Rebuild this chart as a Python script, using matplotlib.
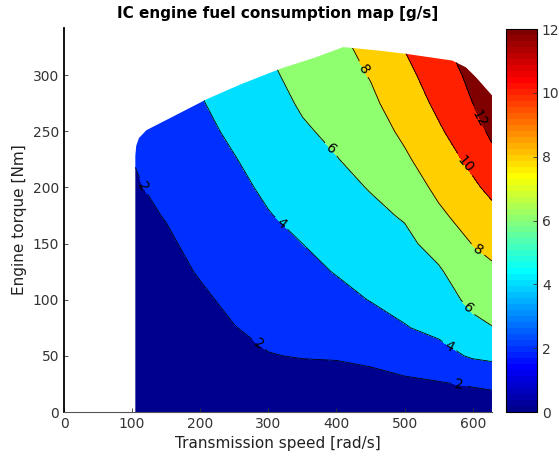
import numpy as np
import matplotlib
matplotlib.use("Agg")
from matplotlib import pyplot as plt
from matplotlib.patches import Polygon
from matplotlib.colors import Normalize, ListedColormap
from matplotlib.cm import ScalarMappable

# grid of the fuel map (speed in rad/s, torque in Nm)
speed = [104.7, 150, 200, 250, 300, 350, 400, 450, 500, 550, 600, 628.3]
torque = [0, 25, 50, 75, 100, 125, 150, 175, 200, 225, 250, 275, 300, 325, 350]

# fuel rate [g/s], one list per speed column (rows follow torque)
fuel_104 = [0.20, 0.41, 0.61, 0.82, 1.03, 1.23, 1.44, 1.65, 1.85, 2.06, 2.30, 2.50, 2.70, 2.90, 3.10]
fuel_150 = [0.25, 0.51, 0.76, 1.02, 1.28, 1.54, 1.79, 2.07, 2.42, 2.78, 3.13, 3.50, 3.85, 4.20, 4.55]
fuel_200 = [0.30, 0.67, 1.03, 1.40, 1.77, 2.11, 2.40, 2.70, 2.99, 3.29, 3.58, 3.88, 4.17, 4.47, 4.76]
fuel_250 = [0.35, 0.89, 1.42, 1.96, 2.30, 2.63, 2.95, 3.28, 3.61, 3.93, 4.30, 4.68, 5.05, 5.43, 5.80]
fuel_300 = [0.40, 1.17, 1.94, 2.36, 2.75, 3.14, 3.53, 3.92, 4.28, 4.64, 4.99, 5.35, 5.70, 6.05, 6.40]
fuel_350 = [0.45, 1.29, 2.08, 2.56, 3.04, 3.52, 4.00, 4.45, 4.89, 5.34, 5.79, 6.20, 6.57, 6.95, 7.33]
fuel_400 = [0.50, 1.33, 2.13, 2.80, 3.47, 4.09, 4.56, 5.02, 5.48, 5.94, 6.37, 6.78, 7.20, 7.62, 8.03]
fuel_450 = [0.55, 1.46, 2.35, 3.23, 4.06, 4.57, 5.08, 5.59, 6.10, 6.62, 7.13, 7.65, 8.10, 8.45, 8.90]
fuel_500 = [0.60, 1.69, 2.80, 3.91, 4.49, 5.03, 5.57, 6.16, 6.94, 7.72, 8.36, 8.93, 9.50, 10.07, 10.64]
fuel_550 = [0.65, 1.86, 3.38, 4.41, 5.10, 5.78, 6.67, 7.65, 8.43, 9.09, 9.76, 10.39, 10.90, 11.45, 12.00]
fuel_600 = [0.70, 2.17, 4.21, 5.49, 6.48, 7.27, 8.06, 8.87, 9.68, 10.46, 11.23, 12.00, 12.50, 13.20, 13.90]
fuel_628 = [0.75, 2.36, 4.42, 5.94, 6.81, 7.66, 8.56, 9.48, 10.45, 11.47, 12.38, 13.18, 13.97, 14.77, 15.56]

# maximum torque envelope
max_speed = [104.7, 106, 110, 121, 150, 211, 260, 319, 370, 410, 460, 502, 570, 590, 605, 628.3]
max_torque = [228, 237, 244, 251, 260, 279, 292, 306, 316, 325, 322, 319, 313, 307, 298, 282]

levels = [0, 2, 4, 6, 8, 10, 12, 16]
line_levels = [2, 4, 6, 8, 10, 12]


def matlab_jet(m=64):
    # same construction as MATLAB's jet(m)
    n = int(np.ceil(m / 4))
    u = np.concatenate([np.arange(1, n + 1) / n, np.ones(n - 1), np.arange(n, 0, -1) / n])
    g = int(np.ceil(n / 2)) - (1 if m % 4 == 1 else 0) + np.arange(1, len(u) + 1)
    r = g + n
    b = g - n
    cmap = np.zeros((m, 3))
    for idx, col in ((r, 0), (g, 1), (b, 2)):
        keep = (idx >= 1) & (idx <= m)
        cmap[idx[keep] - 1, col] = u[keep]
    return cmap


jet64 = matlab_jet(64)
band_colors = [jet64[min(int(np.floor(lv / 12 * 64)), 63)] for lv in levels[:-1]]

fuel = np.array([fuel_104, fuel_150, fuel_200, fuel_250, fuel_300, fuel_350,
                 fuel_400, fuel_450, fuel_500, fuel_550, fuel_600, fuel_628]).T

fig = plt.figure(figsize=(5.59, 4.62), dpi=100)
ax = fig.add_axes([0.1145, 0.1082, 0.7656, 0.8312])
cax = fig.add_axes([0.9052, 0.1082, 0.0555, 0.8290])

cs = ax.contourf(speed, torque, fuel, levels=levels, colors=band_colors)
cl = ax.contour(speed, torque, fuel, levels=line_levels, colors="k", linewidths=0.6)

env = Polygon([(max_speed[0], 0)] + list(zip(max_speed, max_torque)) + [(max_speed[-1], 0)],
              closed=True, transform=ax.transData, facecolor="none", edgecolor="none")
ax.add_patch(env)
cs.set_clip_path(env)
cl.set_clip_path(env)

label_pos = [(119, 202), (292, 68), (580, 24), (320, 169), (561, 52), (387, 230),
             (597, 95), (437, 304), (607, 144), (588, 220), (607, 260)]
ax.clabel(cl, fmt="%d", fontsize=10, inline=True, manual=label_pos)

ax.set_xlim(0, 628.3)
ax.set_ylim(0, 342)
ax.set_xticks([0, 100, 200, 300, 400, 500, 600])
ax.set_yticks([0, 50, 100, 150, 200, 250, 300])
ax.tick_params(direction="in", length=3, labelsize=10, colors="#333333", width=0.6)
ax.spines["top"].set_visible(False)
ax.spines["right"].set_visible(False)
ax.spines["left"].set_linewidth(1.3)
ax.spines["bottom"].set_color("#555555")
ax.spines["bottom"].set_linewidth(0.8)
ax.set_xlabel("Transmission speed [rad/s]", fontsize=11, color="#222222")
ax.set_ylabel("Engine torque [Nm]", fontsize=11, color="#222222")
ax.set_title("IC engine fuel consumption map [g/s]", fontsize=11, fontweight="bold", pad=7)

sm = ScalarMappable(norm=Normalize(0, 12), cmap=ListedColormap(jet64))
cb = fig.colorbar(sm, cax=cax, ticks=[0, 2, 4, 6, 8, 10, 12])
cb.ax.tick_params(direction="in", length=3, labelsize=10, colors="#333333", width=0.6)
cb.outline.set_linewidth(0.8)

fig.savefig("out.png", dpi=100)
